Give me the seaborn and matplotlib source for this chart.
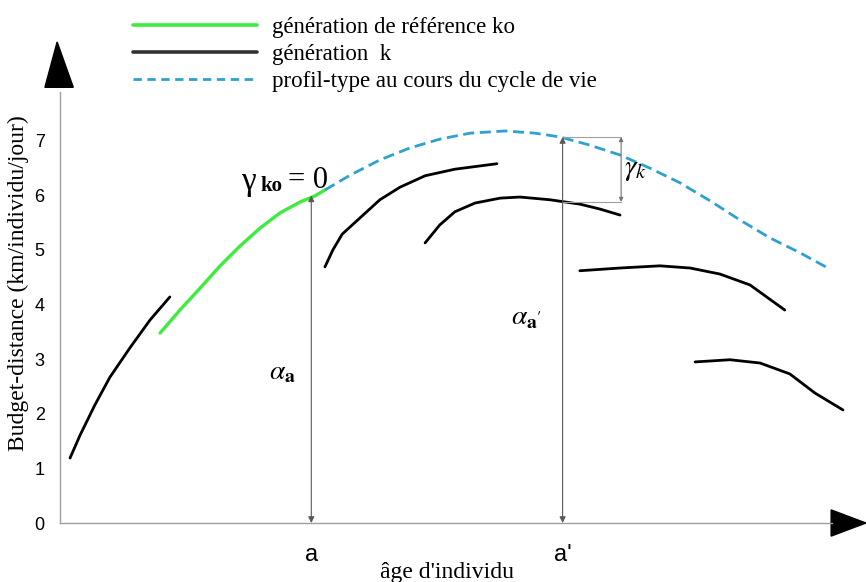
import numpy as np
import pandas as pd
import seaborn as sns
import matplotlib.pyplot as plt
from matplotlib.patches import Polygon
from matplotlib.lines import Line2D

# values (x in tick units, y in km/individu/jour)
ref_x = [2.79, 3.34, 3.90, 4.46, 5.01, 5.57, 6.13, 6.69, 7.10, 7.38]
ref_y = [3.48, 3.90, 4.30, 4.71, 5.07, 5.40, 5.68, 5.88, 5.99, 6.10]

profile_x = [7.38, 8.08, 8.91, 9.75, 10.58, 11.42, 12.40, 13.23, 13.93, 14.76,
             15.60, 16.43, 17.27, 18.11, 18.94, 19.78, 20.61, 21.39]
profile_y = [6.10, 6.37, 6.65, 6.87, 7.03, 7.14, 7.18, 7.14, 7.07, 6.92,
             6.74, 6.50, 6.23, 5.90, 5.55, 5.22, 4.95, 4.67]

gen_x = [
    [0.28, 0.56, 0.97, 1.39, 1.95, 2.51, 3.06],
    [7.38, 7.60, 7.86, 8.36, 8.91, 9.47, 10.17, 11.00, 12.17],
    [10.17, 10.58, 11.00, 11.56, 12.26, 12.81, 13.65, 14.48, 15.04, 15.60],
    [14.48, 15.60, 16.71, 17.55, 18.38, 19.22, 20.19],
    [17.69, 18.66, 19.50, 20.33, 21.03, 21.81],
]
gen_y = [
    [1.19, 1.61, 2.16, 2.67, 3.21, 3.72, 4.14],
    [4.69, 5.00, 5.29, 5.59, 5.92, 6.15, 6.36, 6.48, 6.58],
    [5.13, 5.46, 5.70, 5.86, 5.95, 5.97, 5.92, 5.84, 5.75, 5.64],
    [4.62, 4.67, 4.71, 4.67, 4.56, 4.36, 3.90],
    [2.95, 2.99, 2.93, 2.73, 2.38, 2.07],
]

age_a, age_a2 = 7, 14
alpha_a = 6.0
alpha_a2 = 7.07
gen_at_a2 = 5.88
x_ticks = list(range(22))
y_ticks = list(range(8))

labels = ["génération de référence ko", "génération  k",
          "profil-type au cours du cycle de vie"]

sns.set_style("white")
plt.rcParams['font.family'] = ['Liberation Serif', 'DejaVu Serif']
plt.rcParams['mathtext.fontset'] = 'stix'
plt.rcParams['text.color'] = 'black'
plt.rcParams['axes.labelcolor'] = 'black'

green = "#3ded3d"
blue = "#2fa0d2"
grey = "#a0a0a0"

fig = plt.figure(figsize=(8.66, 5.82), dpi=100)
ax = fig.add_axes([60 / 866, 59 / 582, 806 / 866, 480 / 582])
ax.set_xlim(0, 806 / 35.9)
ax.set_ylim(0, 480 / 54.6)

for xs, ys in zip(gen_x, gen_y):
    sns.lineplot(x=xs, y=ys, ax=ax, color="black", lw=2.0, sort=False,
                 estimator=None)
sns.lineplot(x=ref_x, y=ref_y, ax=ax, color=green, lw=2.4, sort=False,
             estimator=None)
sns.lineplot(x=profile_x, y=profile_y, ax=ax, color=blue, lw=2.0, sort=False,
             estimator=None, dashes=False, linestyle=(0, (4, 2)))

# axes with arrows
for s in ["top", "right"]:
    ax.spines[s].set_visible(False)
for s in ["left", "bottom"]:
    ax.spines[s].set_color(grey)
    ax.spines[s].set_linewidth(1.0)
ax.spines["left"].set_bounds(0, 7.9)
ax.spines["bottom"].set_bounds(0, 21.5)
ax.add_patch(Polygon([(-0.42, 7.98), (0.37, 7.98), (-0.08, 8.81)],
                     closed=True, color="black", clip_on=False))
ax.add_patch(Polygon([(21.48, -0.24), (21.48, 0.24), (22.45, 0.0)],
                     closed=True, color="black", clip_on=False))

ax.set_xticks(x_ticks)
ax.set_xticklabels([])
ax.set_yticks(y_ticks)
ax.set_yticklabels([str(v) for v in y_ticks], family='Liberation Sans', fontsize=13)
ax.tick_params(axis='x', direction='out', length=8, color=grey, width=1)
ax.tick_params(axis='y', direction='out', length=5, color=grey, width=1, pad=6,
               labelcolor='black')
ax.set_ylabel("Budget-distance (km/individu/jour)", fontsize=17, labelpad=4)

# a and a'
arrow_kw = dict(arrowstyle="<|-|>", color="0.35", lw=0.8, mutation_scale=9,
                shrinkA=0, shrinkB=0)
ax.annotate("", xy=(age_a, 0), xytext=(age_a, alpha_a), arrowprops=arrow_kw)
ax.annotate("", xy=(age_a2, 0), xytext=(age_a2, alpha_a2), arrowprops=arrow_kw)
ax.text(age_a, -0.59, "a", family='Liberation Sans', fontsize=17,
        ha="center", va="center")
ax.text(age_a2, -0.59, "a'", family='Liberation Sans', fontsize=17,
        ha="center", va="center")
ax.text(10.78, -0.9, "âge d'individu", fontsize=17, ha="center", va="center")

ax.text(6.2, 2.75, r"$\alpha_{\mathbf{a}}$", fontsize=20, ha="center", va="center")
ax.text(13.0, 3.75, r"$\alpha_{\mathbf{a'}}$", fontsize=20, ha="center", va="center")

# gamma ko
ax.text(5.25, 6.25, "γ", fontsize=24, ha="center", va="center")
ax.text(5.9, 6.17, "ko", fontsize=15, fontweight="bold", ha="center", va="center")
ax.text(6.9, 6.27, "= 0", fontsize=22, ha="center", va="center")

# gamma k bracket
bx = 15.63
ax.plot([age_a2, bx], [alpha_a2, alpha_a2], color=grey, lw=0.8)
ax.plot([age_a2, bx], [gen_at_a2, gen_at_a2], color=grey, lw=0.8)
ax.annotate("", xy=(bx, alpha_a2), xytext=(bx, gen_at_a2),
            arrowprops=dict(arrowstyle="<|-|>", color="0.45", lw=0.8,
                            mutation_scale=6, shrinkA=0, shrinkB=0))
ax.text(15.72, 6.47, r"$\gamma_k$", fontsize=21, ha="left", va="center")

handles = [Line2D([], [], color=green, lw=2.6),
           Line2D([], [], color="#333333", lw=2.6),
           Line2D([], [], color=blue, lw=2.0, linestyle=(0, (3, 2)))]
fig.legend(handles, labels, loc="upper left", bbox_to_anchor=(133 / 866, 1 - 17 / 582),
           frameon=False, fontsize=16.5, handlelength=5.4, handletextpad=0.66,
           labelspacing=0.25, borderpad=0, borderaxespad=0)

fig.savefig("out.png", dpi=100)
